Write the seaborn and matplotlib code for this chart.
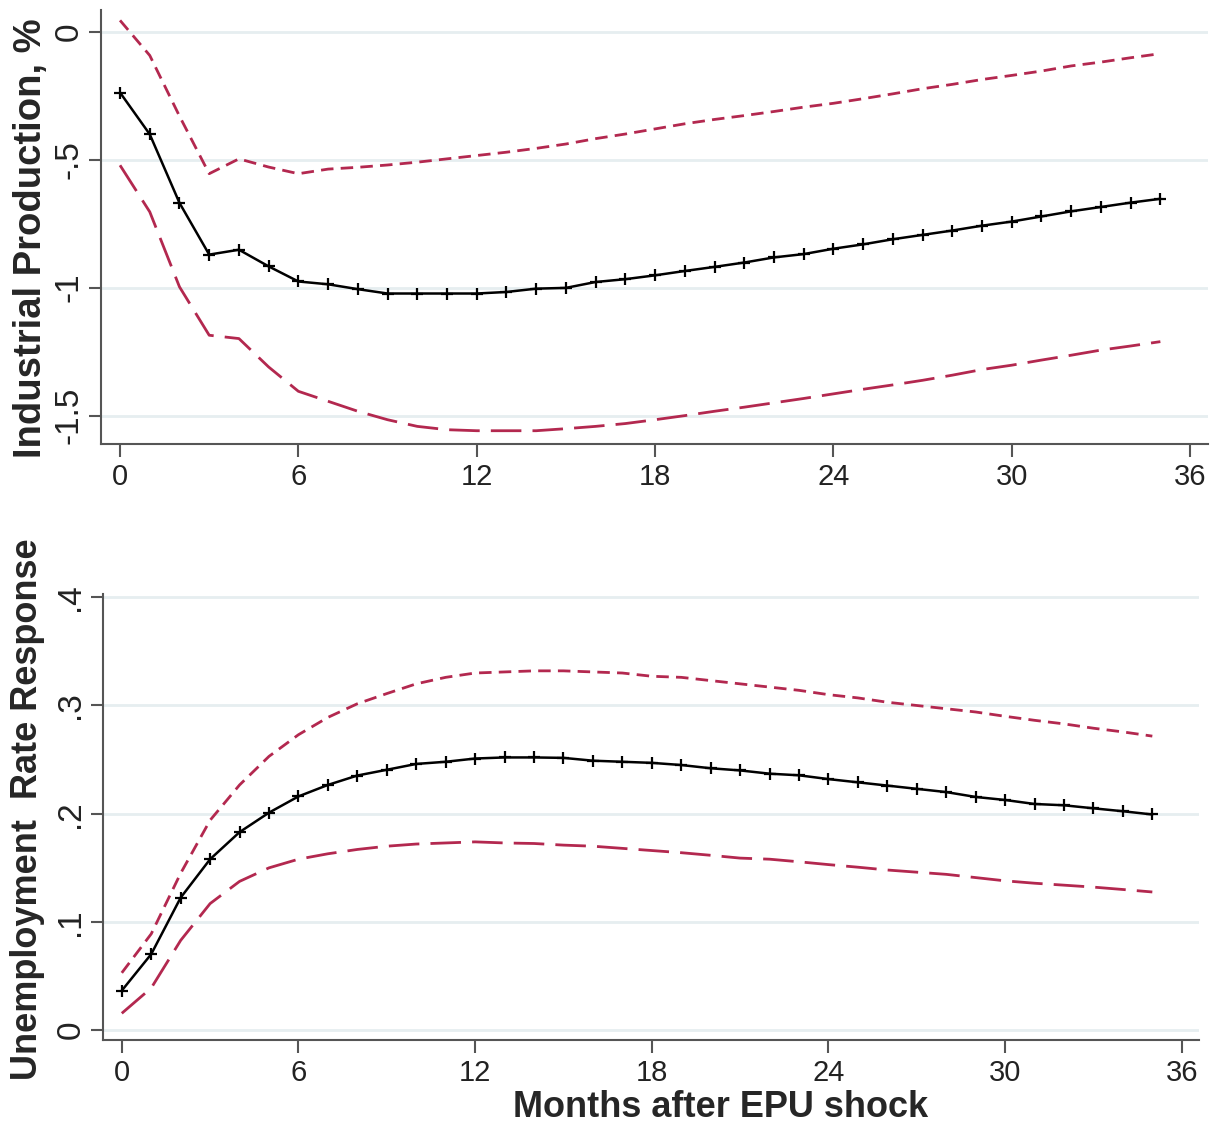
import matplotlib
matplotlib.use("Agg")
import matplotlib.pyplot as plt
import seaborn as sns
import pandas as pd

# ── data: impulse responses to an EPU shock, months 0..35 ──────────
months = list(range(36))

ip_irf = [-0.238, -0.401, -0.669, -0.871, -0.852, -0.917, -0.976, -0.987, -1.006, -1.023,
          -1.023, -1.023, -1.023, -1.017, -1.004, -1.001, -0.978, -0.967, -0.952, -0.935,
          -0.919, -0.902, -0.882, -0.869, -0.848, -0.831, -0.811, -0.794, -0.777, -0.758,
          -0.742, -0.722, -0.702, -0.685, -0.668, -0.653]
ip_upper = [0.044, -0.093, -0.33, -0.555, -0.497, -0.529, -0.555, -0.537, -0.53, -0.521,
            -0.51, -0.497, -0.484, -0.471, -0.456, -0.439, -0.418, -0.4, -0.38, -0.36,
            -0.343, -0.328, -0.312, -0.295, -0.28, -0.262, -0.243, -0.223, -0.206, -0.187,
            -0.171, -0.154, -0.134, -0.119, -0.102, -0.086]
ip_lower = [-0.522, -0.704, -0.997, -1.186, -1.199, -1.31, -1.405, -1.444, -1.483, -1.516,
            -1.542, -1.555, -1.559, -1.559, -1.559, -1.551, -1.542, -1.531, -1.516, -1.5,
            -1.483, -1.467, -1.45, -1.433, -1.415, -1.397, -1.38, -1.362, -1.342, -1.32,
            -1.303, -1.283, -1.264, -1.244, -1.228, -1.211]

ur_irf = [0.0366, 0.0703, 0.1225, 0.158, 0.183, 0.201, 0.216, 0.2266, 0.2353, 0.2406,
          0.246, 0.248, 0.251, 0.252, 0.252, 0.2516, 0.249, 0.248, 0.247, 0.245,
          0.242, 0.24, 0.237, 0.2355, 0.232, 0.229, 0.226, 0.223, 0.22, 0.2155,
          0.2127, 0.209, 0.2078, 0.205, 0.2023, 0.1993]
ur_upper = [0.053, 0.089, 0.145, 0.194, 0.2266, 0.253, 0.273, 0.289, 0.3016, 0.311,
            0.32, 0.326, 0.33, 0.331, 0.332, 0.332, 0.331, 0.33, 0.327, 0.326,
            0.323, 0.32, 0.317, 0.314, 0.31, 0.307, 0.303, 0.3, 0.297, 0.294,
            0.29, 0.2863, 0.283, 0.279, 0.2756, 0.2717]
ur_lower = [0.0156, 0.039, 0.083, 0.117, 0.1375, 0.15, 0.158, 0.163, 0.167, 0.17,
            0.172, 0.173, 0.174, 0.173, 0.1725, 0.171, 0.17, 0.168, 0.166, 0.164,
            0.1616, 0.159, 0.158, 0.1556, 0.153, 0.1506, 0.148, 0.146, 0.144, 0.141,
            0.138, 0.1358, 0.134, 0.1322, 0.13, 0.1277]

x_ticks = [0, 6, 12, 18, 24, 30, 36]
ip_ticks = [0, -0.5, -1, -1.5]
ip_tick_labels = ["0", "-.5", "-1", "-1.5"]
ur_ticks = [0, 0.1, 0.2, 0.3, 0.4]
ur_tick_labels = ["0", ".1", ".2", ".3", ".4"]

ip = pd.DataFrame({"month": months, "irf": ip_irf, "upper": ip_upper, "lower": ip_lower})
ur = pd.DataFrame({"month": months, "irf": ur_irf, "upper": ur_upper, "lower": ur_lower})

sns.set_style("white")
plt.rcParams["font.family"] = ["Liberation Sans", "DejaVu Sans"]

BAND = "#b3284f"
GRID = "#e6eef0"
SPINE = "#555555"

fig = plt.figure(figsize=(12.14, 11.25), dpi=100)
ax1 = fig.add_axes([0.0832, 0.6053, 0.9118, 0.3857])
ax2 = fig.add_axes([0.0848, 0.0756, 0.9032, 0.3964])


def draw_panel(ax, df, ylim, yticks, ylabels, ylab, ylab_size):
    for t in yticks:
        ax.axhline(t, color=GRID, linewidth=2, zorder=0)
    sns.lineplot(data=df, x="month", y="upper", ax=ax, color=BAND, linewidth=2,
                 linestyle=(0, (4.5, 2.6)))
    sns.lineplot(data=df, x="month", y="lower", ax=ax, color=BAND, linewidth=2,
                 linestyle=(0, (11, 4)))
    sns.lineplot(data=df, x="month", y="irf", ax=ax, color="black", linewidth=1.8,
                 marker="+", markersize=9, markeredgewidth=1.6, markeredgecolor="black")
    ax.set_xlim(-0.64, 36.6)
    ax.set_ylim(*ylim)
    ax.set_xticks(x_ticks)
    ax.set_xticklabels([str(v) for v in x_ticks])
    ax.set_yticks(yticks)
    ax.set_yticklabels(ylabels, rotation=90, va="center")
    ax.tick_params(axis="both", direction="out", length=9, width=1.5, color=SPINE,
                   labelcolor="#222222", left=True, bottom=True)
    ax.tick_params(axis="x", labelsize=21, pad=5)
    ax.tick_params(axis="y", labelsize=24, pad=3)
    for side in ["top", "right"]:
        ax.spines[side].set_visible(False)
    for side in ["left", "bottom"]:
        ax.spines[side].set_color(SPINE)
        ax.spines[side].set_linewidth(1.5)
    ax.set_ylabel(ylab, fontsize=ylab_size, fontweight="bold", va="center")
    ax.set_xlabel("")


draw_panel(ax1, ip, (-1.611, 0.084), ip_ticks, ip_tick_labels,
           "Industrial Production, %", 27.5)
draw_panel(ax2, ur, (-0.009, 0.403), ur_ticks, ur_tick_labels,
           "Unemployment  Rate Response", 26)
ax1.yaxis.set_label_coords(-0.063, 0.475)
ax2.yaxis.set_label_coords(-0.069, 0.518)
ax2.set_xlabel("Months after EPU shock", fontsize=26, fontweight="bold", va="center")
ax2.xaxis.set_label_coords(0.563, -0.151)

fig.savefig("out.png", dpi=100)
plt.close(fig)
